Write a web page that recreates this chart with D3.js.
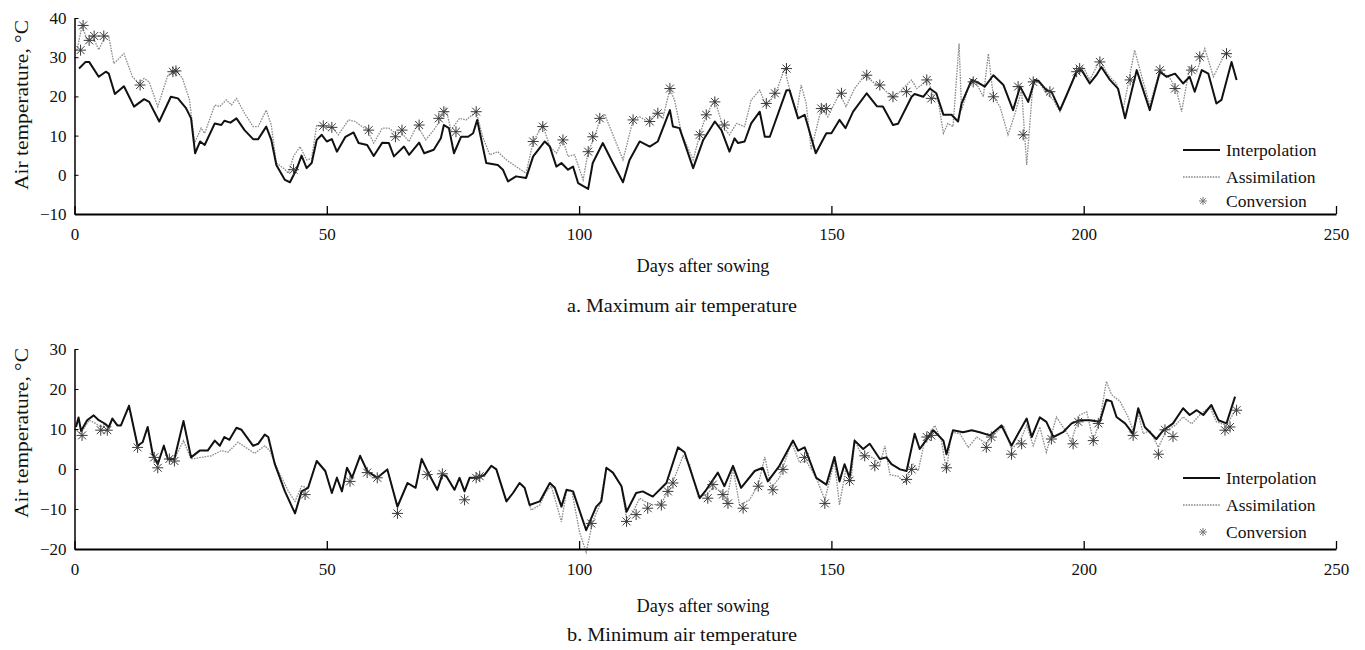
<!DOCTYPE html>
<html><head><meta charset="utf-8">
<script src="https://cdn.jsdelivr.net/npm/d3@7"></script>
<style>
html,body{margin:0;padding:0;background:#fff;}
svg{display:block;}
svg text{font-family:'Liberation Serif','DejaVu Serif',serif;}
</style></head>
<body>
<svg id="chart" width="1365" height="650"></svg>
<script>
// ---------- DATA (day after sowing, temperature °C) ----------
const xTicks = [0, 50, 100, 150, 200, 250];
const maxYTicks = [-10, 0, 10, 20, 30, 40];
const minYTicks = [-20, -10, 0, 10, 20, 30];
const seriesNames = ["Interpolation", "Assimilation", "Conversion"];

const maxInterpolation = [[0.9,27.1],[2.2,28.8],[2.9,28.8],[4.8,25],[6.2,26.3],[6.8,25.8],[8,20.6],[9.8,22.6],[11.8,17.4],[13.8,19.3],[14.8,18.6],[16.8,13.6],[19.1,19.9],[20.5,19.5],[22.1,17],[23.1,14.4],[23.9,5.5],[24.9,8.5],[25.8,7.6],[27.8,13.1],[29.1,12.7],[29.7,13.8],[30.9,13.3],[32.1,14.4],[33.7,11.4],[35.4,9.1],[36.4,9.1],[38,12.3],[39,8.9],[40,2.5],[41.7,-1.3],[42.7,-1.9],[44,1.4],[45,4.9],[46,1.7],[47,3],[48,8.9],[49,10.2],[50,8.5],[51,9.1],[52,5.9],[53.7,9.7],[55.3,10.8],[56.3,8.1],[58,7.6],[59.3,4.8],[61,8.2],[62.3,8.1],[63.3,4.7],[65.3,7.2],[66.3,5.1],[68.3,8.2],[69.3,5.5],[71.2,6.4],[72.6,9.3],[73.2,12.7],[74.2,11.9],[75.2,5.5],[76.6,9.7],[78,9.7],[79,10.6],[79.8,14],[81.6,3],[83.9,2.5],[84.9,1.3],[85.9,-1.7],[87.5,-0.4],[89.5,-0.8],[90.9,4.7],[93.2,8.5],[94.2,7.2],[95.5,2.1],[96.5,3],[97.8,1.3],[98.8,2.1],[99.8,-2.1],[101.8,-3.6],[102.7,3],[104.7,8.1],[106.7,3],[108.7,-1.9],[110,3.8],[112,8.5],[114,7.2],[115.6,8.5],[118,16.5],[118.6,12.3],[119.9,11.9],[122.6,1.7],[124.6,8.9],[126.9,13.6],[128.2,11.4],[129.8,5.9],[130.8,9.3],[131.5,8.1],[132.8,8.5],[134.1,13.1],[135.8,16.1],[136.8,9.7],[137.8,9.7],[141.1,21.6],[141.7,21.6],[143.4,14.4],[144.7,15.3],[146.9,5.5],[149,10.6],[150,10.6],[151.6,14],[152.8,11.9],[154.3,16.1],[157,20.8],[159,17.5],[160.2,17.4],[162.2,12.7],[163.2,13],[165.9,19.9],[166.5,20.6],[168.2,19.9],[169.5,22],[170.8,20.8],[172.2,15.3],[173.8,15.3],[175.1,13.6],[175.8,18.2],[177.8,24.2],[178.8,23.7],[180.4,22.5],[182.1,25.4],[184.1,22.9],[186,16.5],[187.4,22.5],[189,18.6],[190.3,24.2],[191,24],[192.6,21.6],[193.6,21.2],[195.3,16.5],[196.6,20.3],[198.6,26.3],[199.6,26.7],[201.2,23.3],[202.5,25.4],[203.5,27.5],[205.2,24.2],[206.8,22],[208.2,14.4],[210.5,26.7],[213.1,16.5],[215.1,26.3],[216.4,25],[218.1,25.8],[219.7,23.3],[221,25],[222,21.2],[223.4,26.7],[224.7,25.8],[226.3,18.2],[227.3,19.1],[229.3,28.8],[230.3,24.2]];

const maxAssimilation = [[0.5,31.8],[1.5,38.1],[2.5,34.3],[3.5,35.6],[4.8,31.9],[6.2,35.6],[6.8,35.2],[7.8,28.4],[9.8,30.9],[11.5,25],[12.8,23.3],[13.8,24.6],[14.8,23.7],[16.5,17.4],[18.5,25.4],[20.1,26.7],[21.4,24.6],[22.8,19.1],[23.8,8.1],[25.1,11.9],[25.8,10.6],[27.8,17.8],[28.8,17.4],[30.1,19.1],[31.1,17.8],[32.1,19.5],[33.7,15.7],[35.4,12.3],[36.4,12.3],[38,16.5],[39,12.7],[40,3],[41.4,1.7],[42.4,0.4],[43.4,4.7],[44.7,7.2],[46,3.8],[47,4.2],[48,12.7],[49,12.3],[51,12.3],[52.3,10.2],[54.3,14],[55.6,13.6],[58,11.4],[59.3,8.1],[61,11.9],[62.3,11.9],[63.6,10.6],[64.6,11],[66.3,8.5],[67.9,12.7],[69.6,8.9],[71.2,11.4],[72.9,14.8],[73.6,16.9],[74.6,11.4],[76.3,14.4],[77.6,14],[79.6,16.1],[80.9,9.7],[82.3,5.1],[83.9,5.9],[85.6,3.8],[87.5,2.1],[89.5,0.4],[90.9,8.5],[92.8,12.7],[94.2,7.2],[95.5,5.5],[96.8,8.9],[97.8,4.7],[99.1,5.1],[100.8,-1.3],[101.8,5.9],[103.1,9.7],[104.1,14],[105.1,15.3],[106.7,10.2],[108.7,3.8],[110.7,14],[112,14.8],[113.6,13.6],[115.3,15.7],[116.6,14.4],[118,22],[118.9,19.1],[120.3,10.6],[122.6,3.8],[123.9,10.2],[125.2,15.3],[126.9,19.1],[128.5,12.3],[129.8,10.2],[131.2,13.1],[132.8,12.3],[134.1,19.1],[135.8,21.6],[137.1,17.4],[139.1,21.2],[140.7,27.1],[142.1,19.9],[143.1,15.7],[144,22.9],[145,18.2],[146,6.4],[148,16.9],[149.3,14.8],[151.6,20.8],[152.9,17.4],[154.6,22],[156.6,25.4],[158.2,23.7],[159.9,22.5],[162.2,19.5],[163.6,21.2],[165.9,24.2],[166.9,22],[169.2,24.2],[170.2,19.9],[171.2,18.6],[172.2,10.6],[173.1,13.1],[174.1,12.3],[175.3,33.5],[175.8,16.5],[177.1,22],[178.4,24.2],[180.1,19.9],[181.1,30.9],[182.1,19.9],[183.4,17.4],[185,10.2],[186.4,15.7],[187.7,21.6],[188.7,2.5],[190,24.2],[191.3,23.3],[192.6,20.8],[194,19.1],[195.3,16.1],[196.9,21.2],[198.6,26.7],[199.9,27.5],[201.2,24.2],[203.2,29.2],[204.9,25.4],[206.5,23.3],[207.8,16.5],[210.1,31.8],[211.8,23.7],[213.1,17.8],[215.1,26.7],[217.1,24.6],[218.4,21.6],[219.4,16.1],[221,27.5],[222.4,26.3],[224,32.2],[225.7,25],[228,30.9],[229.3,30.1]];

const maxConversion = [[1.2,31.8],[1.7,38.1],[2.9,34.3],[3.9,35.4],[5.8,35.4],[13,22.9],[19.5,26.3],[20.1,26.5],[43.4,1.3],[49.3,12.5],[51,12.1],[58.3,11.4],[63.6,9.7],[64.9,11.4],[68.3,12.7],[72.2,14.4],[73.2,16.1],[75.6,11],[79.6,16.1],[90.9,8.5],[92.8,12.3],[96.8,8.9],[101.8,5.9],[102.7,9.7],[104.1,14.4],[110.7,14],[114,13.6],[115.6,15.7],[118,22],[123.9,10.2],[125.2,15.3],[126.9,18.6],[128.8,12.7],[137.1,18.2],[138.8,20.8],[141.1,27.1],[148,16.9],[149,16.9],[152,20.8],[157,25.4],[159.6,22.9],[162.2,19.9],[164.9,21.2],[168.9,24.2],[169.8,19.5],[178.1,23.7],[182.1,19.9],[187,22.5],[188,10.2],[190,23.7],[193.3,21.2],[198.6,26.3],[199.2,27.1],[203.2,28.8],[209.2,24.2],[215.1,26.7],[218.1,22],[221.4,26.7],[223,30.1],[228.3,30.9]];

const minInterpolation = [[0.3,10.5],[0.8,12.9],[1.3,9.5],[2.5,12.2],[3.8,13.4],[4.8,12.2],[5.8,11.5],[6.8,10.5],[7.5,12.6],[8.5,10.9],[9.2,10.9],[10.8,15.8],[12.5,5.8],[13.5,6.7],[14.5,10.5],[15.5,3.7],[16.5,1.2],[17.7,5.8],[18.5,2.5],[19.8,2.5],[21.6,12],[23.1,2.9],[24.8,4.6],[26.4,4.6],[27.8,7.1],[28.8,5.8],[29.7,8],[30.7,7.3],[32.1,10.3],[33.1,9.8],[35.4,5.8],[36.4,6.3],[37.7,8.6],[38.4,8],[39.7,1.2],[41.7,-5.6],[43.7,-11.1],[45,-5.6],[46.3,-4.7],[48,2],[49.7,-0.5],[51,-6],[52,-2.2],[53,-5.6],[54,0.3],[55,-2.2],[56.6,3.3],[58,-0.5],[60,-2.2],[62,-0.1],[64,-9.4],[66,-3.5],[67.6,-4.7],[68.8,2.5],[70.3,-1.4],[71.9,-5.2],[72.9,-1.4],[73.7,-1.8],[75.3,-5.2],[76.3,-2.2],[77.3,-5.6],[78.3,-2.2],[80,-2.2],[81.3,-1.4],[82.6,0.8],[83.6,-0.1],[85.6,-8.1],[86.9,-6],[88.2,-3.5],[89.2,-4.7],[90.2,-9],[92.2,-8.1],[94.2,-3.5],[95.2,-4.7],[96.5,-9.4],[97.5,-5.2],[98.8,-5.6],[101.4,-15.3],[103.4,-9.4],[104.4,-8.1],[105.4,0.3],[106.7,-0.9],[108.4,-4.3],[109.4,-10.7],[111.3,-6],[112.6,-5.6],[114.6,-6.9],[117.3,-3.5],[119.6,5.4],[120.9,4.2],[123.9,-7.3],[125.2,-5.2],[127.5,-0.9],[128.8,-4.3],[130.5,0.8],[132.1,-4.7],[134.8,-0.5],[136.4,0.3],[137.4,-3.1],[139.7,0.8],[142.4,7.1],[143.4,4.6],[144.7,5.4],[147,-2.2],[149,-3.9],[150.6,3],[151.6,-3.1],[152.6,1.2],[153.6,-2.2],[154.6,7.1],[156.3,5],[157.6,6.3],[159.6,2.5],[160.9,2.9],[161.9,1.2],[163.6,-0.1],[164.9,-0.5],[166.5,8.8],[167.5,5],[168.5,6.7],[170.2,9.7],[172.2,7.1],[172.8,3.7],[174.1,9.7],[176.1,9.2],[177.8,9.7],[179.4,9.2],[181.4,8.4],[183.7,10.9],[185.7,5.8],[187,8.8],[188.7,12.6],[189.7,8],[191.3,12.9],[192.6,11.8],[194,8],[195.9,9.2],[197.6,11.4],[199.2,12.2],[201.2,12.2],[203.2,11.8],[204.5,17.3],[205.5,16.9],[206.5,13],[208.2,11.4],[209.8,8.8],[210.8,15.2],[212.1,10.5],[214.4,7.5],[215.8,9.7],[217.7,11.4],[219.7,15.2],[221,13.5],[222.4,14.7],[223.7,13.5],[225.3,16],[226.7,12.2],[228.3,11.4],[230,18.1]];

const minAssimilation = [[0,10.1],[1.2,8.8],[2.9,12.2],[4.2,11.4],[5.2,10.5],[6.2,11.4],[6.8,9.8],[7.5,12.6],[8.5,10.9],[9.2,10.9],[10.8,15.8],[12.5,5.8],[13.5,6.7],[14.5,10.5],[15.5,3.7],[16.5,1.2],[17.7,5.8],[18.5,2.5],[19.8,2.5],[21.6,7.1],[23.1,2.5],[25.1,2.9],[27.1,3.3],[29.1,4.6],[30.4,4.2],[32.4,6.7],[35.7,3.9],[37.7,5.8],[38.7,4.6],[40.4,-0.5],[42.4,-5.6],[43.7,-8.1],[45,-4.3],[46.3,-4.7],[48,2],[49.7,-0.5],[51,-6],[52,-2.2],[53,-5.6],[54,0.3],[55,-2.2],[56.6,3.3],[58,-0.5],[60,-2.2],[62,-0.1],[64,-9.8],[66,-3.5],[67.6,-4.7],[68.8,2.5],[70.3,-1.4],[71.9,-5.2],[72.9,-1.4],[73.7,-1.8],[75.3,-5.2],[76.3,-2.2],[77.3,-5.6],[78.3,-2.2],[80,-2.2],[81.3,-1.4],[82.6,0.8],[83.6,-0.1],[85.6,-8.1],[86.9,-6],[88.2,-3.5],[89.2,-4.7],[90.5,-10.3],[92.2,-9],[93.5,-5.6],[94.5,-4.3],[96.5,-13.2],[97.5,-5.6],[98.5,-5.2],[100.1,-15.8],[101.4,-20.8],[102.7,-13.2],[104.1,-9],[105.4,0.3],[106.7,-0.9],[108.4,-4.3],[109.4,-12.4],[110.7,-10.7],[112,-7.3],[113,-8.1],[114.6,-9],[116.3,-8.6],[118,-4.7],[118.9,-2.2],[120.6,3.3],[121.9,1.2],[123.6,-6.9],[125.2,-6.4],[126.5,-4.7],[128.2,-5.6],[129.2,-8.1],[130.5,0.3],[131.8,-9],[133.8,-7.7],[135.5,-3.9],[136.8,3],[138.1,-4.7],[139.7,-2.2],[142.1,6.7],[143.7,1.6],[145,2],[147,-2.2],[148.7,-7.7],[150.6,2],[151.6,-9],[152.9,0.3],[153.9,-3.1],[154.6,7.1],[156.3,2.9],[158.2,2.9],[159.6,1.2],[160.6,5.8],[161.6,-1.4],[163.2,-1.8],[164.6,-3.5],[166.2,1.2],[167.2,-0.5],[168.5,7.1],[170.5,10.9],[171.8,7.1],[172.8,-0.5],[173.8,9.2],[175.5,8.8],[177.1,5.4],[178.8,8],[180.7,6.3],[182.4,8.8],[184.1,10.9],[185.7,5],[187.4,7.1],[188.7,10.9],[190,5.8],[191.3,10.5],[192.6,4.2],[194.6,13],[195.9,10.5],[197.6,7.1],[199.2,13.5],[200.6,14.3],[201.9,7.1],[203.2,12.2],[204.5,21.9],[205.5,18.6],[207.2,16.9],[208.8,13],[209.8,9.7],[210.8,13.9],[211.8,8.8],[213.1,9.7],[214.8,5.4],[216.4,9.7],[218.1,10.9],[219.7,13],[221.4,11.3],[223,13.5],[225,15.6],[226.3,11.8],[228.3,10.9],[230.3,15.2]];

const minConversion = [[1.5,8.4],[5.2,9.7],[6.5,9.7],[12.5,5.4],[15.8,2.9],[16.5,0.3],[18.8,2.5],[19.8,2],[45.7,-6.4],[54.6,-3.1],[58,-0.9],[60,-2.2],[64,-11.1],[69.9,-1.4],[72.9,-1.2],[77.3,-7.7],[79.6,-2.2],[80.3,-1.8],[102.4,-13.6],[109.4,-13.1],[111.3,-11.4],[113.6,-9.8],[116.3,-9],[117.6,-5.6],[118.6,-3.5],[125.5,-7.3],[126.5,-3.9],[128.5,-6.4],[129.5,-8.6],[132.5,-9.8],[135.5,-4.3],[138.4,-5.2],[140.4,-0.1],[144.7,2.9],[148.7,-8.6],[153.6,-2.9],[156.6,3.3],[158.6,0.8],[164.9,-2.6],[165.9,-0.1],[168.9,8],[169.8,8.4],[172.8,0.3],[180.7,5.4],[181.7,8],[185.7,3.7],[187.7,6.3],[193.6,7.5],[197.9,6.3],[198.9,11.8],[201.9,7.1],[202.9,11.4],[209.8,8.4],[214.8,3.7],[216.1,9.8],[217.7,8.1],[228,9.7],[229,10.5],[230.3,14.7]];

// ---------- DRAWING ----------
const svg = d3.select("#chart");
const FONT = "'Liberation Serif','DejaVu Serif',serif";

function starPath(s) {
  const d = s * 0.72;
  return `M0,${-s}L0,${s}M${-s},0L${s},0M${-d},${-d}L${d},${d}M${-d},${d}L${d},${-d}`;
}

function styleText(sel, size) {
  sel.style("font-family", FONT).style("font-size", size + "px").attr("fill", "#111");
}

function drawPanel(cfg) {
  const x = d3.scaleLinear().domain([0, 250]).range([74.5, 1336]);
  const y = d3.scaleLinear().domain(cfg.yDomain).range(cfg.yRange);
  const g = svg.append("g");

  const line = d3.line().x(d => x(d[0])).y(d => y(d[1]));

  // Assimilation (grey dotted)
  g.append("path").datum(cfg.assim).attr("d", line)
    .attr("fill", "none").attr("stroke", "#8c8c8c").attr("stroke-width", 1.3)
    .attr("stroke-dasharray", "1.6,1.1");
  // Interpolation (black)
  g.append("path").datum(cfg.interp).attr("d", line)
    .attr("fill", "none").attr("stroke", "#111").attr("stroke-width", 2)
    .attr("stroke-linejoin", "round");
  // Conversion (stars)
  g.selectAll("path.star").data(cfg.conv).enter().append("path")
    .attr("class", "star")
    .attr("transform", d => `translate(${x(d[0])},${y(d[1])})`)
    .attr("d", starPath(5.5))
    .attr("fill", "none").attr("stroke", "#3a3a3a").attr("stroke-width", 1);

  // axes
  const xAxis = d3.axisBottom(x).tickValues(xTicks).tickFormat(d3.format("d"))
    .tickSizeInner(-8).tickSizeOuter(0).tickPadding(14);
  const gx = g.append("g").attr("transform", `translate(0,${y(cfg.yDomain[0])})`).call(xAxis);
  gx.attr("font-family", null).attr("font-size", null);
  gx.select(".domain").attr("stroke-width", 1.8);
  gx.selectAll(".tick line").attr("stroke-width", 1.3);
  styleText(gx.selectAll("text"), 17);

  const yAxis = d3.axisLeft(y).tickValues(cfg.yTicks).tickFormat(d => d < 0 ? "\u2212" + Math.abs(d) : d)
    .tickSizeInner(-4).tickSizeOuter(0).tickPadding(8);
  const gy = g.append("g").attr("transform", `translate(${x(0)},0)`).call(yAxis);
  gy.attr("font-family", null).attr("font-size", null);
  gy.select(".domain").attr("stroke-width", 1.5);
  styleText(gy.selectAll("text"), 17);

  // axis titles
  styleText(g.append("text").attr("transform", `translate(28,${cfg.yLabelY}) rotate(-90)`)
    .attr("text-anchor", "middle")
    .attr("textLength", 170).attr("lengthAdjust", "spacingAndGlyphs")
    .text("Air temperature, \u00B0C"), 19);
  styleText(g.append("text").attr("x", 703).attr("y", cfg.xLabelY)
    .attr("text-anchor", "middle")
    .attr("textLength", 133).attr("lengthAdjust", "spacingAndGlyphs")
    .text("Days after sowing"), 18);
  styleText(g.append("text").attr("x", 682).attr("y", cfg.captionY)
    .attr("text-anchor", "middle")
    .attr("textLength", 230).attr("lengthAdjust", "spacingAndGlyphs")
    .text(cfg.caption), 19);

  // legend
  const lg = g.append("g");
  const ly = cfg.legendY;
  lg.append("line").attr("x1", 1183).attr("x2", 1220).attr("y1", ly[0]).attr("y2", ly[0])
    .attr("stroke", "#111").attr("stroke-width", 2);
  lg.append("line").attr("x1", 1183).attr("x2", 1220).attr("y1", ly[1]).attr("y2", ly[1])
    .attr("stroke", "#8c8c8c").attr("stroke-width", 1.3).attr("stroke-dasharray", "1.6,1.1");
  lg.append("path").attr("transform", `translate(1203,${ly[2]})`).attr("d", starPath(4))
    .attr("fill", "none").attr("stroke", "#777").attr("stroke-width", 1);
  seriesNames.forEach((n, i) => {
    styleText(lg.append("text").attr("x", 1226).attr("y", ly[i]).attr("dy", "0.33em").text(n), 17.5);
  });
}

drawPanel({
  yDomain: [-10, 40], yRange: [214, 18], yTicks: maxYTicks,
  interp: maxInterpolation, assim: maxAssimilation, conv: maxConversion,
  yLabelY: 105, xLabelY: 272, captionY: 312,
  caption: "a. Maximum air temperature", legendY: [150, 177, 201]
});
drawPanel({
  yDomain: [-20, 30], yRange: [549, 349], yTicks: minYTicks,
  interp: minInterpolation, assim: minAssimilation, conv: minConversion,
  yLabelY: 433, xLabelY: 612, captionY: 641,
  caption: "b. Minimum air temperature", legendY: [478, 505, 532]
});
</script>
</body></html>
